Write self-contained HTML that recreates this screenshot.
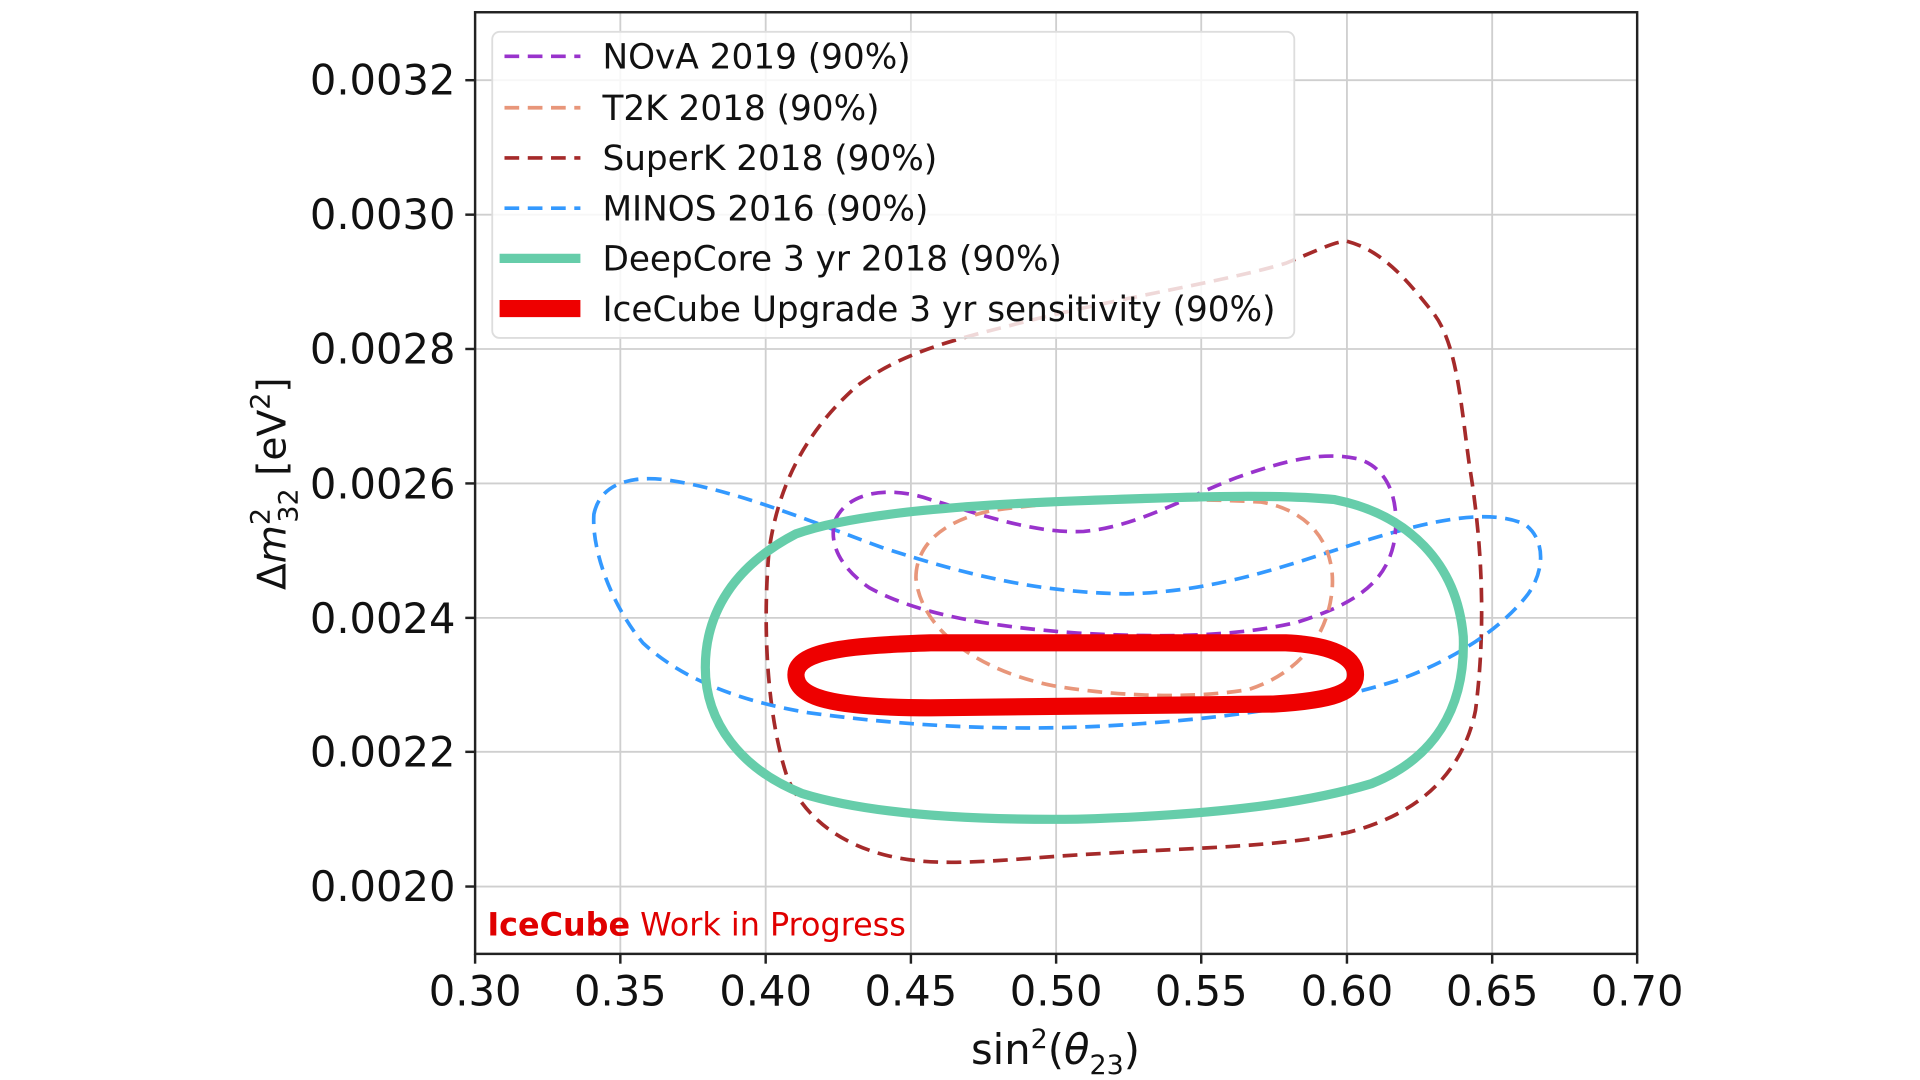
<!DOCTYPE html>
<html><head><meta charset="utf-8"><style>html,body{margin:0;padding:0;background:#fff}svg{display:block}</style></head>
<body>
<svg width="1920" height="1080" viewBox="0 0 1920 1080" xmlns="http://www.w3.org/2000/svg" font-family="'DejaVu Sans','Liberation Sans',sans-serif">
<rect width="1920" height="1080" fill="#fff"/>
<g transform="scale(1.2245)">
  <g stroke="#cfcfcf" stroke-width="1.5">
    <line x1="506.6" y1="10" x2="506.6" y2="779"/><line x1="625.3" y1="10" x2="625.3" y2="779"/>
    <line x1="743.9" y1="10" x2="743.9" y2="779"/><line x1="862.5" y1="10" x2="862.5" y2="779"/>
    <line x1="981" y1="10" x2="981" y2="779"/><line x1="1100" y1="10" x2="1100" y2="779"/>
    <line x1="1218.6" y1="10" x2="1218.6" y2="779"/>
    <line x1="388" y1="724" x2="1337" y2="724"/><line x1="388" y1="614" x2="1337" y2="614"/>
    <line x1="388" y1="504.6" x2="1337" y2="504.6"/><line x1="388" y1="394.8" x2="1337" y2="394.8"/>
    <line x1="388" y1="285" x2="1337" y2="285"/><line x1="388" y1="175.3" x2="1337" y2="175.3"/>
    <line x1="388" y1="65.5" x2="1337" y2="65.5"/>
  </g>
  <path fill="none" stroke="#a52a2a" stroke-width="3" stroke-dasharray="12,7" d="M1100,197 C1130,205 1150,230 1170,255 C1190,280 1193,330 1200,380 C1210,440 1214,510 1205,580 C1195,630 1160,665 1100,680 C1040,692 980,692 900,697 C840,700 790,707 750,703 C700,698 660,675 643,635 C628,590 622,520 628,450 C635,400 655,355 700,315 C740,285 790,275 840,262 C920,242 1000,230 1050,215 C1075,205 1090,197 1100,197 Z"/>
  <path fill="none" stroke="#3399ff" stroke-width="3" stroke-dasharray="12,7" d="M485,420 C490,395 515,388 545,392 C600,400 660,425 720,447 C790,470 850,484 920,485 C1000,483 1060,458 1120,440 C1170,425 1215,415 1245,428 C1262,440 1262,465 1248,485 C1225,515 1185,540 1140,556 C1070,578 990,588 900,593 C820,597 740,593 660,582 C600,572 555,553 525,525 C500,495 483,450 485,420 Z"/>
  <path fill="none" stroke="#9933cc" stroke-width="3" stroke-dasharray="12,7" d="M682,425 C692,402 725,396 760,408 C800,420 845,436 885,434 C930,430 970,405 1010,390 C1050,376 1080,368 1110,375 C1140,385 1143,420 1138,445 C1130,480 1100,495 1060,508 C1010,520 950,521 880,517 C810,512 750,502 710,480 C688,465 676,445 682,425 Z"/>
  <path fill="none" stroke="#e8967a" stroke-width="3" stroke-dasharray="12,7" d="M748,472 C748,445 770,425 810,417 C870,408 960,406 1030,410 C1075,418 1090,450 1088,480 C1085,520 1060,550 1020,563 C980,570 920,570 860,560 C800,548 752,515 748,472 Z"/>
  <path fill="none" stroke="#66cdaa" stroke-width="7.5" d="M576,545 C576,500 600,462 650,436 C700,418 800,412 880,409 C960,406 1040,403 1090,408 C1150,420 1190,460 1195,520 C1197,580 1170,620 1120,640 C1060,658 980,666 880,669 C790,670 710,665 655,648 C605,628 576,590 576,545 Z"/>
  <path fill="none" stroke="#ee0000" stroke-width="14" stroke-linejoin="round" d="M650,551 C650,530 700,527 760,525 L1050,525 C1095,527 1107,540 1107,551 C1107,565 1090,572 1040,575 L760,578 C680,578 650,570 650,551 Z"/>
  <rect x="388" y="10" width="949" height="769" fill="none" stroke="#222" stroke-width="2"/>
  <g stroke="#222" stroke-width="2">
    <line x1="388" y1="779" x2="388" y2="787"/><line x1="506.6" y1="779" x2="506.6" y2="787"/>
    <line x1="625.3" y1="779" x2="625.3" y2="787"/><line x1="743.9" y1="779" x2="743.9" y2="787"/>
    <line x1="862.5" y1="779" x2="862.5" y2="787"/><line x1="981" y1="779" x2="981" y2="787"/>
    <line x1="1100" y1="779" x2="1100" y2="787"/><line x1="1218.6" y1="779" x2="1218.6" y2="787"/>
    <line x1="1337" y1="779" x2="1337" y2="787"/>
    <line x1="380" y1="724" x2="388" y2="724"/><line x1="380" y1="614" x2="388" y2="614"/>
    <line x1="380" y1="504.6" x2="388" y2="504.6"/><line x1="380" y1="394.8" x2="388" y2="394.8"/>
    <line x1="380" y1="285" x2="388" y2="285"/><line x1="380" y1="175.3" x2="388" y2="175.3"/>
    <line x1="380" y1="65.5" x2="388" y2="65.5"/>
  </g>
  <g font-size="34" fill="#111" text-anchor="end">
    <text x="372" y="736">0.0020</text><text x="372" y="626">0.0022</text>
    <text x="372" y="517">0.0024</text><text x="372" y="407">0.0026</text>
    <text x="372" y="297">0.0028</text><text x="372" y="187">0.0030</text>
    <text x="372" y="77">0.0032</text>
  </g>
  <g font-size="34" fill="#111" text-anchor="middle">
    <text x="388" y="821">0.30</text><text x="506.6" y="821">0.35</text>
    <text x="625.3" y="821">0.40</text><text x="743.9" y="821">0.45</text>
    <text x="862.5" y="821">0.50</text><text x="981" y="821">0.55</text>
    <text x="1100" y="821">0.60</text><text x="1218.6" y="821">0.65</text>
    <text x="1337" y="821">0.70</text>
    <text x="862" y="869">sin<tspan font-size="22" dy="-13">2</tspan><tspan dy="13">(</tspan><tspan font-style="italic">θ</tspan><tspan font-size="22" dy="8">23</tspan><tspan dy="-8">)</tspan></text>
  </g>
  <text transform="translate(233,395) rotate(-90)" font-size="32" fill="#111" text-anchor="middle">Δ<tspan font-style="italic">m</tspan><tspan font-size="22" dy="-13">2</tspan><tspan font-size="22" dx="-12" dy="23">32</tspan><tspan dy="-10"> [eV</tspan><tspan font-size="22" dy="-13">2</tspan><tspan dy="13">]</tspan></text>
  <text x="398" y="764" font-size="26" fill="#e00000"><tspan font-weight="bold">IceCube</tspan> Work in Progress</text>
  <rect x="402" y="26" width="655" height="250" rx="6" fill="#fff" fill-opacity="0.82" stroke="#ddd" stroke-width="1.5"/>
  <g fill="none">
    <line x1="412" y1="46" x2="474" y2="46" stroke="#9933cc" stroke-width="3" stroke-dasharray="12,7"/>
    <line x1="412" y1="88" x2="474" y2="88" stroke="#e8967a" stroke-width="3" stroke-dasharray="12,7"/>
    <line x1="412" y1="129" x2="474" y2="129" stroke="#a52a2a" stroke-width="3" stroke-dasharray="12,7"/>
    <line x1="412" y1="170" x2="474" y2="170" stroke="#3399ff" stroke-width="3" stroke-dasharray="12,7"/>
    <line x1="408" y1="211" x2="474" y2="211" stroke="#66cdaa" stroke-width="7.5"/>
    <line x1="408" y1="252" x2="474" y2="252" stroke="#ee0000" stroke-width="14"/>
  </g>
  <g font-size="28" fill="#111">
    <text x="492" y="56">NOvA 2019 (90%)</text>
    <text x="492" y="98">T2K 2018 (90%)</text>
    <text x="492" y="139">SuperK 2018 (90%)</text>
    <text x="492" y="180">MINOS 2016 (90%)</text>
    <text x="492" y="221">DeepCore 3 yr 2018 (90%)</text>
    <text x="492" y="262">IceCube Upgrade 3 yr sensitivity (90%)</text>
  </g>
</g>
</svg>
</body></html>
